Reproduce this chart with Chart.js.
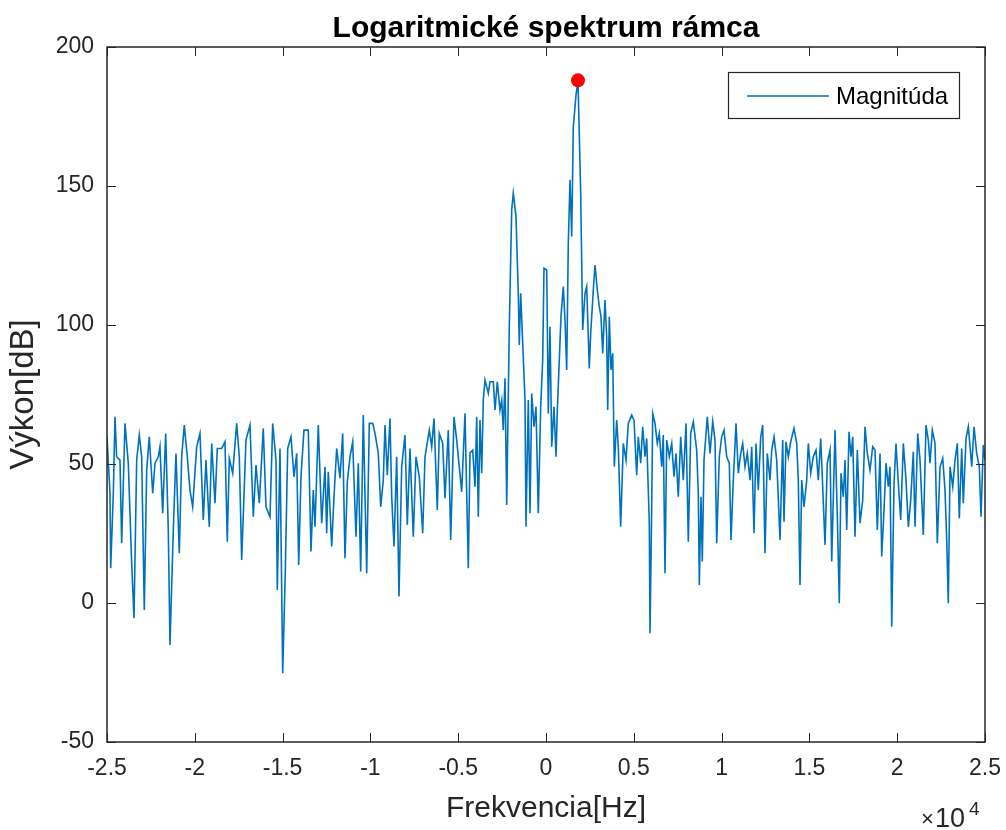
<!DOCTYPE html>
<html lang="sk">
<head>
<meta charset="utf-8">
<title>Logaritmické spektrum rámca</title>
<script src="https://cdn.jsdelivr.net/npm/chart.js@4.4.1/dist/chart.umd.min.js"></script>
<style>
    html, body { margin: 0; padding: 0; background: #fff; }
    #wrap { width: 1006px; height: 830px; }
</style>
</head>
<body>
<div id="wrap"><canvas id="spectrumChart" width="1006" height="830"></canvas></div>
<script>
// frekvencie [Hz] a vykon [dB] odcitane z obrazku
const freqHz = [
    -25000,-24830,-24790,-24640,-24545,-24450,-24260,-24165,-23976,-23788,
    -23595,-23463,-23310,-23161,-23025,-22877,-22740,-22592,-22398,-22267,
    -22079,-21983,-21829,-21658,-21510,-21413,-21225,-21072,-20883,-20747,
    -20599,-20428,-20274,-20121,-19893,-19705,-19517,-19363,-19175,-19038,
    -18850,-18719,-18469,-18281,-18150,-18036,-17842,-17615,-17466,-17330,
    -17085,-16857,-16669,-16516,-16327,-16100,-15946,-15718,-15564,-15377,
    -15302,-15149,-14995,-14847,-14710,-14522,-14351,-14198,-14084,-13953,
    -13782,-13537,-13383,-13252,-13155,-12967,-12774,-12586,-12489,
    -12398,-12204,-12073,-11920,-11732,-11578,-11447,-11316,-11162,-11009,
    -10821,-10689,-10553,-10405,-10211,-10063,-9869,-9738,-9550,-9414,
    -9266,-9169,-9038,-8884,-8787,-8656,-8503,-8372,-8218,-8030,
    -7899,-7745,-7557,-7404,-7216,-7022,-6891,-6646,-6509,-6378,
    -6190,-6077,-5883,-5752,-5564,-5427,-5239,-5086,-4801,-4613,-4425,
    -4328,-4174,-4043,-3947,-3855,-3759,-3662,-3571,-3474,-3286,
    -3189,-3001,-2904,-2773,-2620,-2523,-2432,-2335,-2238,-2090,
    -1953,-1862,-1709,-1578,-1521,-1441,-1327,-1196,-1139,-1008,
    -911,-814,-683,-570,-439,-302,-188,-114,40,131,
    228,325,456,570,644,757,854,985,1082,1179,
    1270,1367,1464,1555,1709,1822,1976,2090,2221,2318,
    2409,2466,2546,2694,2791,2922,3035,3132,3229,3360,
    3457,3514,3605,3702,3799,3890,4026,4117,4254,4402,
    4556,4687,4881,5012,5165,5256,5393,5507,5638,5735,
    5883,5923,6020,6077,6208,6338,6452,6589,6680,6777,
    6874,7022,7159,7290,7404,7534,7671,7819,7973,8104,
    8241,8389,8582,8673,8730,8827,8901,8998,9186,9340,
    9494,9625,9721,9869,10006,10137,10291,10439,10536,10667,
    10821,10951,11088,11202,11333,11464,11618,11715,11846,11960,
    12090,12227,12341,12472,12603,12757,12854,12985,13138,13326,
    13480,13554,13668,13799,13936,14124,14277,14368,14465,14562,
    14693,14847,14938,15075,15223,15377,15507,15644,15758,15889,
    16020,16174,16271,16459,16590,16703,16800,16931,17028,17125,
    17256,17370,17467,17598,17729,17882,18036,18167,18298,18452,
    18605,18737,18868,19021,19118,19249,19363,19494,19591,19688,
    19819,19933,20064,20200,20348,20502,20633,20770,20918,21015,
    21168,21299,21487,21641,21772,21869,22000,22154,22285,22438,
    22592,22723,22820,22911,23008,23162,23293,23424,23537,23674,
    23765,23919,24050,24244,24375,24528,24676,24773,24904,25000
];

const powerDb = [
    59.8,39.5,12.5,39.5,67,52.6,51.4,21.5,64.6,50.3,
    14.3,-5.5,51.4,60.4,52.6,-2.5,47.8,59.8,39.5,50.3,
    52.6,56.2,32.3,61,26.3,-15.1,26.3,53.8,17.9,52.6,
    64,52.6,40.6,34.6,56.2,61,29.9,51.4,27.4,57.4,
    35.9,55.6,55.6,58,22,52,46.7,64.6,52.6,15.5,
    58.6,64,31,49.6,35.9,62.8,34.6,31,64.6,51.4,
    4.7,55.6,-25.3,11.3,55.6,59.8,45.4,53.8,13.7,45.4,
    62.2,62.2,18.5,40.6,27.4,64,28.7,49,25.1,
    47.2,20.3,38.2,55.6,44.9,61,16.1,43.6,52.6,58,
    23.8,50.3,11.3,67.6,10.7,64.6,64.6,61,53.8,34.6,
    44.2,64,46,66.4,38.2,20.3,52.6,2.3,49,60.4,
    28.1,55.6,23.8,52.6,45.4,25.1,52.6,62.2,56.2,66.4,
    33.5,61,57.4,37.7,62.2,22.7,67,58.6,40,68.2,12.5,
    54,55,41.8,67,31,65.8,46.7,73,80.2,75.4,
    79.6,79.6,69.4,79.6,69.4,73,62.2,80.8,35.3,99.4,
    141.4,147.4,139,111.4,92.8,111.4,93.4,73,27.4,73,
    32.3,75.4,63.4,70.6,32.3,70.6,87.4,120.4,119.8,68.2,
    99.4,56.2,70.6,52.6,69.4,87.4,103,113.8,101.8,83.8,
    129.4,152.2,131.8,171.3,182.7,188,147.4,98.2,111.4,113.8,
    95.8,84.4,97,112.6,121.6,112.6,106.6,103,89.8,109,
    95.8,69.4,103,83.8,89.8,49,65.8,56.2,27.4,57.4,
    51.4,64.6,67.6,65.8,46,59.8,50.3,63.4,52.6,59.2,
    28.7,-10.9,34.6,68.2,64.6,57.4,61,49,60.4,10.7,
    58.6,52.6,57.4,45.4,53.8,38.2,59.8,44.2,64.6,22,
    61,65.2,55,39.5,6.5,38.2,14.9,51.4,67,53.8,
    65.2,58.6,21.5,52.6,59.8,62.2,52.6,50.3,22.7,44.2,
    64.6,46.7,53.8,57.4,49,53.8,44.2,56.2,25.1,57.4,
    40.6,59.8,64,17.9,53.8,44.2,55,59.8,51.4,22.7,
    58.6,29.2,58,52.6,58,62.8,57.4,44.2,6.5,44.2,
    34.6,44.2,57.4,46.7,52.6,55,44.2,59.2,41.8,20.9,
    50.3,55,14.9,62.2,31,-0.1,46.7,38.2,51.4,26.3,
    61.6,52.6,59.8,23.8,55,28.7,37,63.4,53.8,47.8,
    56.2,55,26.3,53.8,16.7,33.5,50.3,41.8,49,-8.5,
    43.1,57.4,43.1,29.9,57.4,44.2,27.4,37,54.4,27.4,
    61,51.4,24.5,64,58.6,50.3,62.2,57.4,21.5,49,
    52,40.6,22.7,-0.1,49,41.8,51.4,57.4,30.5,55.6,
    35.9,59.2,63.4,49,63.4,53.8,49,31,56.8,51.4
];

const xTickValues = [-25000, -20000, -15000, -10000, -5000, 0, 5000, 10000, 15000, 20000, 25000];
const xTickLabels = ['-2.5', '-2', '-1.5', '-1', '-0.5', '0', '0.5', '1', '1.5', '2', '2.5'];
const yTickValues = [-50, 0, 50, 100, 150, 200];
const yTickLabels = ['-50', '0', '50', '100', '150', '200'];

document.addEventListener("DOMContentLoaded", function() {

    const fontFamily = "'Liberation Sans', Arial, Helvetica, sans-serif";
    const axisColor = '#262626';
    const lineColor = '#0072BD';
    const chartTitle = 'Logaritmické spektrum rámca';

    Chart.defaults.font.family = fontFamily;
    Chart.defaults.color = axisColor;

    const spectrum = freqHz.map((f, i) => ({ x: f, y: powerDb[i] }));

    // maximum spektra - cerveny bod
    let peakIdx = 0;
    powerDb.forEach((v, i) => { if (v > powerDb[peakIdx]) peakIdx = i; });
    const peak = [{ x: freqHz[peakIdx], y: powerDb[peakIdx] }];

    // nadpis, ramik, tiky dovnutra, legenda a exponent x osi v style MATLABu
    const matlabAxes = {
        id: 'matlabAxes',
        afterDraw(chart) {
            const { ctx, chartArea: a, scales: { x, y } } = chart;
            const tick = 9;
            ctx.save();

            ctx.fillStyle = '#000';
            ctx.font = 'bold 30px ' + fontFamily;
            ctx.textAlign = 'center';
            ctx.textBaseline = 'alphabetic';
            ctx.fillText(chartTitle, (a.left + a.right) / 2, 37);

            ctx.strokeStyle = axisColor;
            ctx.lineWidth = 1;
            ctx.beginPath();
            xTickValues.forEach(v => {
                const px = Math.round(x.getPixelForValue(v)) + 0.5;
                ctx.moveTo(px, a.bottom); ctx.lineTo(px, a.bottom - tick);
                ctx.moveTo(px, a.top); ctx.lineTo(px, a.top + tick);
            });
            yTickValues.forEach(v => {
                const py = Math.round(y.getPixelForValue(v)) + 0.5;
                ctx.moveTo(a.left, py); ctx.lineTo(a.left + tick, py);
                ctx.moveTo(a.right, py); ctx.lineTo(a.right - tick, py);
            });
            ctx.stroke();

            ctx.lineWidth = 1.5;
            ctx.strokeRect(a.left, a.top, a.right - a.left, a.bottom - a.top);

            // legenda
            const lx = a.right - 257, ly = a.top + 25, lw = 231, lh = 46;
            ctx.fillStyle = '#fff';
            ctx.fillRect(lx, ly, lw, lh);
            ctx.strokeStyle = axisColor;
            ctx.lineWidth = 1.2;
            ctx.strokeRect(lx + 0.5, ly + 0.5, lw, lh);
            ctx.strokeStyle = lineColor;
            ctx.lineWidth = 1.6;
            ctx.beginPath();
            ctx.moveTo(lx + 19, ly + 24);
            ctx.lineTo(lx + 101, ly + 24);
            ctx.stroke();
            ctx.fillStyle = '#000';
            ctx.font = '24px ' + fontFamily;
            ctx.textBaseline = 'middle';
            ctx.textAlign = 'left';
            ctx.fillText(chart.data.datasets[1].label, lx + 108, ly + 25);

            // x 10^4
            ctx.fillStyle = axisColor;
            ctx.textBaseline = 'alphabetic';
            ctx.font = '22px ' + fontFamily;
            ctx.fillText('\u00d7', a.right - 64, 826);
            ctx.font = '27px ' + fontFamily;
            ctx.fillText('10', a.right - 50, 827);
            ctx.font = '19px ' + fontFamily;
            ctx.fillText('4', a.right - 16, 815);
            ctx.restore();
        }
    };

    const ctx = document.getElementById('spectrumChart');
    new Chart(ctx, {
        type: 'line',
        data: {
            datasets: [{
                type: 'scatter',
                label: 'max',
                data: peak,
                pointRadius: 7,
                pointHoverRadius: 7,
                backgroundColor: '#ff0000',
                borderColor: '#ff0000',
                borderWidth: 0,
                order: 0
            }, {
                label: 'Magnitúda',
                data: spectrum,
                borderColor: lineColor,
                borderWidth: 1.6,
                pointRadius: 0,
                tension: 0,
                fill: false,
                order: 1
            }]
        },
        options: {
            responsive: false,
            animation: false,
            devicePixelRatio: 1,
            layout: { padding: { left: 0, right: 21, top: 47, bottom: 0 } },
            plugins: {
                legend: { display: false },
                tooltip: { enabled: false },
                title: { display: false }
            },
            scales: {
                x: {
                    type: 'linear',
                    min: -25000,
                    max: 25000,
                    grid: { display: false, drawTicks: false },
                    border: { display: false },
                    afterBuildTicks: axis => { axis.ticks = xTickValues.map(v => ({ value: v })); },
                    afterFit: scale => {
                        scale.height = 88;
                        scale.paddingLeft = 0;
                        scale.paddingRight = 0;
                    },
                    ticks: {
                        autoSkip: false,
                        maxRotation: 0,
                        padding: 13,
                        color: axisColor,
                        font: { size: 23 },
                        callback: (value, index) => xTickLabels[index]
                    },
                    title: {
                        display: true,
                        text: 'Frekvencia[Hz]',
                        color: axisColor,
                        font: { size: 30 },
                        padding: { top: 0, bottom: 3 }
                    }
                },
                y: {
                    min: -50,
                    max: 200,
                    grid: { display: false, drawTicks: false },
                    border: { display: false },
                    afterBuildTicks: axis => { axis.ticks = yTickValues.map(v => ({ value: v })); },
                    afterFit: scale => {
                        scale.width = 107;
                        scale.paddingTop = 0;
                        scale.paddingBottom = 0;
                    },
                    ticks: {
                        autoSkip: false,
                        padding: 13,
                        color: axisColor,
                        font: { size: 23 },
                        callback: (value, index) => yTickLabels[index]
                    },
                    title: {
                        display: true,
                        text: 'Výkon[dB]',
                        color: axisColor,
                        font: { size: 33 },
                        padding: { top: 4, bottom: 0 }
                    }
                }
            }
        },
        plugins: [matlabAxes]
    });
});
</script>
</body>
</html>
